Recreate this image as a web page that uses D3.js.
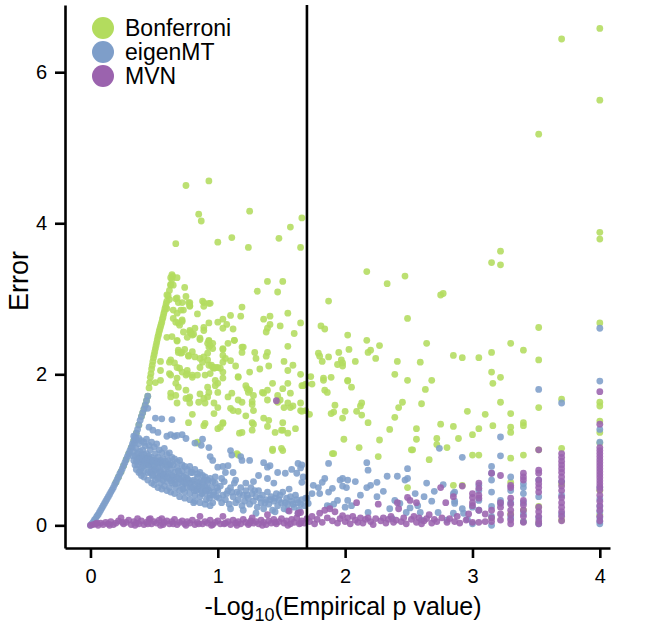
<!DOCTYPE html>
<html>
<head>
<meta charset="utf-8">
<script src="https://cdn.jsdelivr.net/npm/d3@7"></script>
<style>
  html, body { margin: 0; padding: 0; background: #ffffff; }
  svg { display: block; font-family: "Liberation Sans", Arial, Helvetica, sans-serif; }
</style>
</head>
<body>
<svg id="chart" width="664" height="626"></svg>
<script>
// ---------------- DATA ----------------
const methods = ["Bonferroni", "eigenMT", "MVN"];
const xTicks = [0, 1, 2, 3, 4];
const yTicks = [0, 2, 4, 6];
const threshold = 1.7;
const xTitleMain = "-Log";
const xTitleSub = "10";
const xTitleRest = "(Empirical p value)";
const yTitle = "Error";

// Bonferroni: points along the upper envelope
const bonferroniEnvelope = [
  [0.20,0.57],[0.22,0.64],[0.24,0.71],[0.26,0.79],[0.28,0.87],[0.30,0.95],[0.32,1.03],[0.34,1.12],
  [0.36,1.22],[0.38,1.33],[0.40,1.44],[0.41,1.49],[0.42,1.54],[0.43,1.59],[0.44,1.65],[0.45,1.71],
  [0.46,1.82],[0.465,1.89],[0.47,1.96],[0.475,2.01],[0.48,2.07],[0.485,2.12],[0.49,2.17],[0.495,2.22],
  [0.50,2.26],[0.505,2.30],[0.51,2.34],[0.515,2.38],[0.52,2.42],[0.525,2.46],[0.53,2.50],[0.535,2.53],
  [0.54,2.57],[0.545,2.60],[0.55,2.63],[0.555,2.66],[0.56,2.69],[0.565,2.73],[0.57,2.76],[0.575,2.80],
  [0.58,2.83],[0.585,2.87],[0.59,2.90],[0.595,2.94],[0.60,2.97],[0.61,3.04],[0.62,3.11],[0.63,3.18],
  [0.64,3.26],[0.645,3.30]
];
// Bonferroni: scattered points
const bonferroniScatter = [
  [4.0,6.58],[3.7,6.44],[4.0,5.63],[3.52,5.18],[0.75,4.50],[0.93,4.56],[0.85,4.12],[0.87,4.03],[1.25,4.16],
  [1.66,4.07],[0.67,3.73],[1.0,3.75],[1.11,3.81],[1.24,3.68],[1.48,3.80],[1.57,3.95],[1.65,3.68],[4.0,3.88],
  [4.0,3.79],[3.22,3.63],[3.15,3.48],[3.22,3.45],[2.17,3.36],[2.47,3.30],[2.33,3.20],[1.87,2.97],[2.75,3.05],
  [2.77,3.07],[2.49,2.74],[3.52,2.62],[4.0,2.68],[1.65,2.68],[1.81,2.64],[1.84,2.60],[2.02,2.52],[2.17,2.45],
  [2.27,2.38],[2.03,2.33],[2.18,2.29],[2.20,2.32],[2.24,2.21],[2.64,2.41],[3.3,2.41],[3.4,2.32],[3.52,2.19],
  [3.15,2.29],[2.85,2.25],[2.92,2.22],[3.05,2.22],[1.79,2.28],[1.80,2.24],[1.87,2.23],[1.95,2.29],[1.82,2.17],
  [1.94,2.13],[1.97,2.19],[1.98,2.15],[1.98,2.11],[2.08,2.17],[2.41,2.17],[2.59,2.16],[2.39,2.00],[3.15,2.03],
  [3.22,1.96],[1.73,1.97],[1.83,1.95],[1.89,1.96],[2.02,1.92],[2.49,1.92],[2.68,1.92],[2.05,1.83],
  [0.64,3.32],[0.63,3.28],[0.68,3.28],[0.63,3.19],[0.65,3.18],[0.74,3.15],[1.39,3.23],[1.51,3.23],[1.31,3.10],
  [1.47,3.09],[0.60,3.05],[0.68,3.01],[0.62,2.99],[0.75,3.03],[0.78,2.95],[0.78,2.90],[0.89,2.95],[0.89,2.90],
  [0.94,2.94],[0.60,2.87],[0.65,2.85],[0.68,2.81],[0.73,2.85],[0.84,2.80],[1.19,2.89],[1.18,2.77],[1.10,2.78],
  [1.55,2.81],[1.36,2.73],[1.41,2.77],[1.41,2.66],[1.39,2.61],[1.38,2.56],[1.49,2.64],[1.60,2.54],[1.55,2.37],
  [0.65,2.74],[0.72,2.70],[0.70,2.65],[0.60,2.49],[0.64,2.50],[0.68,2.44],[0.73,2.56],[0.79,2.54],[0.78,2.58],
  [0.82,2.61],[0.81,2.53],[0.86,2.46],[0.89,2.62],[0.93,2.68],[1.04,2.73],[1.00,2.69],[1.07,2.66],[1.04,2.61],
  [1.12,2.60],[0.93,2.44],[0.96,2.41],[0.93,2.36],[1.04,2.33],[1.13,2.45],[1.20,2.36],[1.19,2.29],[1.29,2.29],
  [1.30,2.21],[1.39,2.29],[1.38,2.24],[1.25,2.03],[1.33,2.07],[1.40,2.11],[1.52,2.17],[1.59,2.12],[1.55,2.05],
  [1.65,2.00],[1.16,1.97],[0.69,2.29],[0.71,2.28],[0.74,2.33],[0.77,2.24],[0.80,2.30],[0.63,2.19],[0.62,2.16],
  [0.66,2.15],[0.55,2.17],[0.55,2.05],[0.62,2.01],[0.70,2.08],[0.76,2.05],[0.86,2.09],[0.88,2.16],[0.92,2.19],
  [0.95,2.12],[0.97,2.08],[1.00,2.09],[1.04,2.03],[0.75,1.99],[0.80,1.99],
  [0.67,3.00],[0.69,2.95],[0.72,2.95],[0.77,2.95],[0.78,2.91],[0.88,2.97],[0.93,2.94],[0.71,2.85],[0.72,2.72],
  [0.69,2.68],[0.67,2.69],[0.78,2.56],[0.76,2.49],[0.80,2.52],[0.86,2.48],[0.93,2.45],[0.92,2.41],[0.94,2.38],
  [0.96,2.34],[0.89,2.58],[0.68,2.45],[0.69,2.32],[0.72,2.29],[0.77,2.25],[0.82,2.23],[0.86,2.21],[0.89,2.23],
  [0.92,2.28],[0.93,2.12],[0.96,2.09],[0.98,2.09],[1.02,2.08],[0.68,2.09],[0.72,2.03],[0.76,2.01],[0.80,1.96],
  [0.84,1.99],[0.90,1.99],[0.94,2.01],[1.04,1.95],[0.67,1.88],[0.69,1.83],[0.75,1.79],[0.98,1.92],[1.00,1.88],
  [0.98,1.85],[1.04,2.25],[1.06,2.21],[1.04,2.16],[1.10,2.18],[1.14,2.11],[1.16,1.96],[1.08,2.41],[1.13,2.45],
  [1.19,2.36],[1.04,2.34],
  [0.77,1.68],[0.78,1.62],[0.86,1.74],[0.92,1.83],[0.93,1.76],[1.00,1.76],[0.97,1.62],[1.08,1.70],[1.11,1.75],
  [1.16,1.66],[1.19,1.63],[1.22,1.85],[1.23,1.81],[1.24,1.76],[1.28,1.72],[1.27,1.60],[1.35,1.76],[1.39,1.79],
  [1.43,1.88],[1.47,1.72],[1.51,1.81],[1.55,1.88],[1.57,1.75],[1.52,1.56],[1.59,1.58],[1.66,1.85],[1.69,1.87],
  [0.51,1.89],[0.55,1.92],[0.63,1.99],[0.68,1.95],[0.63,1.75],[0.67,1.72],[0.68,1.62],[0.90,1.62],[0.92,1.70],
  [1.00,1.56],[0.97,1.48],[1.10,1.55],[1.12,1.52],[1.25,1.79],[1.27,1.64],[1.36,1.75],[1.39,1.66],[1.49,1.66],
  [1.55,1.62],[1.57,1.56],[1.65,1.52],[1.27,1.36],[1.28,1.34],[1.27,1.26],[1.36,1.42],[1.40,1.39],[1.45,1.23],
  [1.51,1.26],[1.55,1.22],[1.19,1.23],[1.17,1.22],[1.04,1.35],[1.00,1.28],[0.90,1.35],[0.89,1.32],[1.43,0.99],
  [1.51,0.99],[0.84,1.10],[1.15,0.95],[0.80,1.47],[0.77,1.36],[1.04,1.36],[1.02,1.30],[1.16,1.51],[1.28,1.52],
  [1.39,1.31],[1.51,1.36],[1.50,1.26],[1.61,1.28],[1.69,1.52],[1.43,1.01],[1.50,1.02],[1.16,0.93],[0.84,1.09],
  [1.65,1.62],[1.47,1.63],[0.85,1.63],[0.89,1.68],[0.63,1.70],[0.75,1.68],[0.78,1.70],[1.22,1.45],
  [1.66,1.51],[1.72,1.47],[1.83,1.92],[1.74,1.87],[1.67,1.85],[1.84,1.79],[1.86,1.76],[2.02,1.91],
  [1.92,1.59],[1.91,1.50],[1.89,1.48],[2.00,1.51],[1.98,1.42],[2.09,1.51],[2.12,1.58],[2.13,1.62],[2.13,1.46],
  [2.18,1.36],[1.99,1.14],[2.11,1.03],[1.90,0.95],[1.91,0.95],[2.27,1.13],[2.26,0.91],[2.35,1.27],[2.39,1.43],
  [2.42,1.56],[2.45,1.63],[2.63,1.80],[2.60,1.61],[2.56,1.28],[2.56,1.14],[2.53,1.00],[2.52,1.00],[2.66,0.87],
  [2.75,1.34],[2.85,1.31],[2.72,1.15],[2.72,1.07],[2.80,1.03],[2.89,1.15],[2.96,1.51],[2.49,0.50],[2.85,0.53],
  [3.16,1.88],[3.22,1.63],[3.0,1.20],[3.05,1.28],[3.0,0.93],[3.05,0.93],[3.10,1.47],[3.16,1.32],[3.3,1.48],
  [3.3,1.30],[3.3,1.23],[3.4,1.36],[3.4,1.32],[3.3,0.89],[3.4,0.93],[3.52,1.56],[3.52,1.00],[3.7,1.67],
  [3.7,1.02],[4.0,1.63],[4.0,1.58],[4.0,1.38],[4.0,1.23],[4.0,1.09],[4.0,0.46],[4.0,0.14],[3.7,0.07],[3.7,0.55],
  [3.52,0.25],[3.52,0.03],[3.4,0.20],[3.3,0.15],[3.3,0.57],[3.15,0.10],[3.4,0.05],[2.92,0.53]
];

// eigenMT: points along the envelope
const eigenEnvelope = [
  [0.00,0.00],[0.01,0.02],[0.02,0.04],[0.03,0.07],[0.04,0.09],[0.05,0.12],[0.06,0.14],[0.07,0.17],
  [0.08,0.20],[0.09,0.23],[0.10,0.26],[0.11,0.29],[0.12,0.32],[0.13,0.35],[0.14,0.38],[0.15,0.41],
  [0.16,0.44],[0.17,0.47],[0.18,0.50],[0.19,0.54],[0.20,0.57],[0.21,0.61],[0.22,0.64],[0.23,0.68],
  [0.24,0.71],[0.25,0.75],[0.26,0.79],[0.27,0.83],[0.28,0.87],[0.29,0.91],[0.30,0.95],[0.31,0.99],
  [0.32,1.03],[0.33,1.08],[0.34,1.12],[0.35,1.17],[0.36,1.22],[0.37,1.27],[0.38,1.33],[0.39,1.39],
  [0.40,1.44],[0.41,1.49],[0.42,1.54],[0.43,1.59],[0.44,1.65],[0.45,1.71]
];
// eigenMT: scattered points
const eigenScatter = [
  [0.45,1.55],[0.51,1.42],[0.56,1.41],[0.64,1.40],[0.46,1.30],[0.49,1.26],[0.53,1.23],[0.60,1.18],[0.63,1.20],
  [0.66,1.18],[0.68,1.19],[0.72,1.20],[0.75,1.15],[0.82,1.09],[0.88,1.14],[0.87,1.06],[0.93,1.03],[0.94,0.91],
  [0.96,0.86],[1.10,0.99],[1.11,0.93],[1.18,0.91],[1.19,0.86],[1.25,0.86],[1.00,0.77],[1.04,0.78],[1.08,0.79],
  [1.06,0.70],[1.12,0.70],[1.36,0.83],[1.39,0.77],[1.41,0.79],[1.47,0.70],[1.53,0.69],[1.58,0.74],[1.62,0.69],
  [1.63,0.82],[1.67,0.64],[1.32,0.66],[1.39,0.62],[0.81,0.30],[1.63,0.16],
  [0.33,1.05],[0.34,0.98],[0.35,0.92],[0.35,1.10],[0.36,0.85],[0.36,1.02],[0.37,0.95],[0.37,0.80],[0.38,1.08],
  [0.38,0.90],[0.39,0.98],[0.39,0.84],[0.40,0.92],[0.40,0.76],[0.41,1.00],[0.41,0.86],[0.42,0.94],[0.42,0.72],
  [0.43,0.88],[0.43,1.05],[0.44,0.80],[0.44,0.95],[0.45,0.86],[0.45,0.70],[0.46,0.92],[0.46,0.78],[0.47,0.84],
  [0.47,1.00],[0.48,0.74],[0.48,0.90],[0.49,0.80],[0.49,0.65],[0.50,0.86],[0.50,0.72],[0.51,0.95],[0.51,0.60],
  [0.52,0.82],[0.52,0.68],[0.53,0.76],[0.53,0.90],[0.54,0.64],[0.54,0.84],[0.55,0.72],[0.55,0.56],[0.56,0.80],
  [0.56,0.66],[0.57,0.88],[0.57,0.60],[0.58,0.74],[0.58,0.52],[0.59,0.68],[0.60,0.78],[0.60,0.58],[0.61,0.70],
  [0.61,0.86],[0.62,0.62],[0.62,0.50],[0.63,0.74],[0.64,0.66],[0.64,0.56],[0.65,0.80],[0.66,0.60],[0.66,0.70],
  [0.67,0.50],[0.68,0.64],[0.68,0.76],[0.69,0.56],[0.70,0.68],[0.70,0.46],[0.71,0.60],[0.72,0.72],[0.72,0.52],
  [0.73,0.64],[0.74,0.56],[0.74,0.44],[0.75,0.66],[0.76,0.50],[0.77,0.60],[0.78,0.42],[0.78,0.56],[0.79,0.70],
  [0.80,0.50],[0.81,0.60],[0.82,0.40],[0.82,0.54],[0.83,0.46],[0.84,0.64],[0.85,0.52],[0.86,0.38],[0.86,0.58],
  [0.87,0.46],[0.88,0.50],[0.89,0.60],[0.90,0.42],[0.90,0.52],[0.91,0.34],[0.92,0.56],[0.93,0.46],[0.94,0.40],
  [0.95,0.50],[0.96,0.30],[0.97,0.44],[0.98,0.56],[0.99,0.38],[1.00,0.46],
  [0.37,0.88],[0.39,0.72],[0.42,0.82],[0.44,0.88],[0.47,0.70],[0.50,0.78],[0.53,0.62],[0.55,0.86],[0.58,0.64],
  [0.62,0.80],[0.65,0.64],[0.69,0.72],[0.73,0.58],[0.76,0.62],[0.80,0.58],[0.84,0.48],[0.88,0.56],[0.92,0.48],
  [0.33,0.92],[0.34,0.86],[0.35,0.80],[0.36,0.74],[0.38,0.70],[0.40,0.66],[0.34,1.18],[0.36,1.14],[0.38,1.15],
  [0.40,1.12],[0.42,1.10],[0.44,1.14],[0.46,1.06],[0.48,1.10],[0.50,1.04],[0.52,1.08],[0.54,1.00],[0.56,0.96],
  [0.58,1.02],[0.60,0.94],[0.62,0.96],[0.64,0.90],[0.66,0.88],[0.68,0.84],[0.70,0.86],[0.72,0.80],[0.74,0.78],
  [0.76,0.74],[0.78,0.78],[0.80,0.70],[0.82,0.74],[0.84,0.68],[0.86,0.70],[0.88,0.66],[0.90,0.64],[0.92,0.60],
  [0.94,0.62],[0.96,0.58],[0.98,0.64],
  [0.42,0.64],[0.45,0.60],[0.48,0.56],[0.50,0.54],[0.53,0.50],[0.56,0.48],[0.60,0.46],[0.63,0.44],[0.66,0.42],
  [0.70,0.38],[0.74,0.36],[0.78,0.34],[0.82,0.32],[0.86,0.30],[0.90,0.28],[0.94,0.26],
  [0.415,0.79],[0.455,0.81],[0.485,0.67],[0.515,0.74],[0.545,0.70],[0.575,0.67],[0.605,0.63],[0.635,0.59],
  [0.665,0.55],[0.695,0.62],[0.725,0.48],[0.755,0.56],[0.785,0.50],[0.815,0.46],[0.845,0.56],[0.875,0.42],
  [0.905,0.46],[0.935,0.36],[0.965,0.40],[0.995,0.50],
  [0.37,0.87],[0.39,0.88],[0.41,0.89],[0.43,0.85],[0.45,0.88],[0.47,0.87],[0.49,0.85],[0.51,0.86],[0.53,0.84],
  [0.55,0.83],[0.57,0.82],[0.59,0.85],[0.61,0.80],[0.63,0.82],
  [1.02,0.52],[1.04,0.40],[1.05,0.58],[1.06,0.34],[1.08,0.46],[1.09,0.28],[1.10,0.50],[1.12,0.38],[1.13,0.56],
  [1.14,0.30],[1.15,0.44],[1.16,0.34],[1.18,0.50],[1.19,0.26],[1.20,0.40],[1.21,0.32],[1.22,0.46],[1.24,0.36],
  [1.25,0.28],[1.26,0.50],[1.27,0.42],[1.28,0.32],[1.30,0.38],[1.31,0.24],[1.32,0.46],[1.34,0.30],[1.35,0.40],
  [1.36,0.22],[1.38,0.34],[1.39,0.44],[1.40,0.28],[1.42,0.38],[1.43,0.20],[1.44,0.32],[1.46,0.42],[1.47,0.26],
  [1.48,0.34],[1.50,0.30],[1.51,0.44],[1.52,0.22],[1.54,0.36],[1.55,0.28],[1.56,0.48],[1.58,0.32],[1.60,0.24],
  [1.61,0.40],[1.63,0.30],[1.64,0.20],[1.66,0.34],[1.68,0.26],[1.70,0.36],
  [1.01,0.36],[1.03,0.30],[1.07,0.42],[1.11,0.44],[1.17,0.42],[1.23,0.40],[1.29,0.46],[1.33,0.36],[1.37,0.30],
  [1.41,0.34],[1.45,0.36],[1.49,0.40],[1.53,0.30],[1.57,0.38],[1.59,0.28],[1.62,0.34],[1.65,0.28],[1.10,0.22],
  [1.20,0.20],[1.30,0.16],[1.45,0.18],[1.55,0.20],[1.03,0.62],[1.14,0.60],[1.22,0.56],[1.28,0.58],[1.44,0.56],
  [1.66,0.80],[1.65,0.76],[1.87,0.82],[2.17,0.83],[2.18,0.73],[2.49,0.75],[2.92,0.90],[2.74,1.02],[2.33,0.65],
  [2.41,0.65],[2.47,0.60],[2.49,0.62],[2.64,0.56],[2.77,0.54],[2.25,0.57],[2.20,0.53],[2.17,0.50],[2.08,0.58],
  [1.98,0.62],[1.96,0.60],[2.02,0.60],[1.98,0.52],[2.01,0.50],[1.84,0.62],[1.82,0.57],[1.79,0.50],[1.90,0.49],
  [1.87,0.44],[1.80,0.42],[1.75,0.53],[1.74,0.42],[1.66,0.57],[1.69,0.36],[1.71,0.29],[1.86,0.26],[1.88,0.25],
  [1.91,0.28],[1.94,0.33],[2.00,0.24],[2.02,0.33],[2.05,0.26],[2.18,0.17],[2.35,0.22],[2.37,0.09],[2.39,0.33],
  [2.43,0.29],[2.48,0.17],[2.51,0.23],[2.57,0.26],[2.59,0.17],[2.60,0.07],[2.68,0.32],[2.73,0.17],[2.80,0.07],
  [2.85,0.42],[2.86,0.32],[2.85,0.16],[2.96,0.08],[2.93,0.16],[2.12,0.40],[2.25,0.38],[2.30,0.45],[2.55,0.42],
  [2.62,0.38],[2.70,0.45],[2.86,0.44],[2.86,0.29],
  [3.05,0.53],[3.05,0.46],[3.05,0.33],[3.05,0.20],[3.0,0.24],[3.0,0.02],[2.92,0.22],
  [3.15,0.78],[3.15,0.69],[3.15,0.60],[3.15,0.44],[3.15,0.25],[3.15,0.12],[3.15,0.00],
  [3.22,1.17],[3.22,0.92],[3.22,0.33],[3.22,0.29],
  [3.3,0.64],[3.3,0.46],[3.3,0.30],[3.3,0.10],
  [3.4,0.55],[3.4,0.50],[3.4,0.42],[3.4,0.30],[3.4,0.15],[3.4,0.05],
  [3.52,1.80],[3.52,0.60],[3.52,0.38],[3.52,0.10],[3.52,0.02],
  [3.7,1.62],[3.7,0.58],[3.7,0.40],[3.7,0.15],
  [4.0,2.61],[4.0,1.91],[4.0,1.27],[4.0,1.10],[4.0,0.50],[4.0,0.35],[4.0,0.25],[4.0,0.18],[4.0,0.10],[4.0,0.05],[4.0,0.02]
];

// MVN points
const mvnPoints = [
  [0.00,0.00],[0.02,0.01],[0.04,0.02],[0.06,0.00],[0.08,0.03],[0.10,0.01],[0.12,0.04],[0.14,0.02],[0.16,0.05],
  [0.18,0.01],[0.20,0.03],[0.22,0.06],[0.24,0.10],[0.26,0.02],[0.28,0.04],[0.30,0.07],[0.32,0.01],[0.34,0.05],
  [0.36,0.03],[0.37,0.09],[0.38,0.02],[0.40,0.06],[0.42,0.01],[0.44,0.04],[0.46,0.08],[0.47,0.09],[0.48,0.02],
  [0.50,0.05],[0.52,0.03],[0.54,0.07],[0.56,0.09],[0.57,0.01],[0.58,0.04],[0.60,0.06],[0.62,0.02],[0.64,0.05],
  [0.66,0.08],[0.68,0.01],[0.70,0.04],[0.72,0.06],[0.74,0.02],[0.76,0.05],[0.78,0.03],[0.80,0.07],[0.82,0.01],
  [0.84,0.04],[0.86,0.12],[0.88,0.02],[0.90,0.05],[0.92,0.03],[0.94,0.07],[0.96,0.01],[0.98,0.04],[1.00,0.06],
  [1.02,0.02],[1.04,0.12],[1.06,0.03],[1.08,0.05],[1.10,0.01],[1.12,0.07],[1.14,0.03],[1.16,0.05],[1.18,0.02],
  [1.20,0.08],[1.22,0.04],[1.24,0.01],[1.26,0.06],[1.27,0.10],[1.28,0.03],[1.30,0.05],[1.32,0.02],[1.34,0.07],
  [1.36,0.04],[1.38,0.01],[1.39,0.14],[1.40,0.06],[1.42,0.03],[1.44,0.08],[1.46,0.02],[1.48,0.05],[1.50,0.09],
  [1.52,0.03],[1.54,0.06],[1.56,0.19],[1.57,0.02],[1.58,0.08],[1.60,0.04],[1.62,0.10],[1.63,0.16],[1.64,0.02],
  [1.65,0.17],[1.66,0.06],[1.68,0.03],[1.70,0.09],
  [0.05,0.03],[0.15,0.00],[0.25,0.04],[0.35,0.00],[0.45,0.02],[0.55,0.00],[0.65,0.02],[0.75,0.00],[0.85,0.02],
  [0.95,0.00],[1.05,0.02],[1.15,0.00],[1.25,0.03],[1.35,0.00],[1.45,0.04],[1.55,0.00],[1.65,0.03],
  [1.46,1.65],
  [1.72,0.05],[1.74,0.12],[1.76,0.02],[1.78,0.08],[1.80,0.16],[1.82,0.04],[1.84,0.20],[1.86,0.10],[1.88,0.22],
  [1.90,0.06],[1.92,0.18],[1.94,0.03],[1.96,0.09],[1.98,0.13],[2.00,0.05],[2.02,0.10],[2.04,0.02],[2.06,0.12],
  [2.08,0.07],[2.09,0.30],[2.10,0.04],[2.12,0.10],[2.14,0.03],[2.16,0.08],[2.18,0.10],[2.20,0.05],[2.22,0.01],
  [2.24,0.09],[2.26,0.28],[2.28,0.06],[2.30,0.10],[2.32,0.03],[2.34,0.08],[2.36,0.12],[2.38,0.04],[2.40,0.07],
  [2.41,0.30],[2.42,0.22],[2.44,0.05],[2.46,0.10],[2.48,0.02],[2.49,0.37],[2.51,0.33],[2.52,0.08],[2.54,0.12],
  [2.56,0.30],[2.56,0.04],[2.58,0.10],[2.60,0.02],[2.62,0.06],[2.64,0.09],[2.66,0.14],[2.68,0.03],[2.70,0.08],
  [2.72,0.05],[2.75,0.50],[2.76,0.10],[2.79,0.30],[2.80,0.04],[2.82,0.09],[2.85,0.38],[2.86,0.05],[2.88,0.12],
  [2.92,0.52],[2.90,0.03],[2.95,0.07],[2.97,0.15],
  [3.0,0.37],[3.0,0.26],[3.0,0.42],[3.0,0.30],[3.0,0.04],
  [3.05,0.56],[3.05,0.49],[3.05,0.40],[3.05,0.36],[3.05,0.20],[3.05,0.04],
  [3.10,0.15],[3.10,0.05],
  [3.15,0.69],[3.15,0.20],[3.15,0.10],[3.15,0.05],
  [3.22,0.66],[3.22,0.30],[3.22,0.24],[3.22,0.15],[3.22,0.07],
  [3.3,0.53],[3.3,0.50],[3.3,0.36],[3.3,0.28],[3.3,0.20],[3.3,0.14],[3.3,0.07],[3.3,0.02],
  [3.4,0.69],[3.4,0.64],[3.4,0.60],[3.4,0.33],[3.4,0.27],[3.4,0.20],[3.4,0.12],[3.4,0.04],
  [3.52,1.00],[3.52,0.73],[3.52,0.69],[3.52,0.60],[3.52,0.55],[3.52,0.50],[3.52,0.44],[3.52,0.24],[3.52,0.18],
  [3.52,0.12],[3.52,0.06],[3.52,0.02],
  [3.7,0.95],[3.7,0.90],[3.7,0.85],[3.7,0.80],[3.7,0.75],[3.7,0.70],[3.7,0.64],[3.7,0.58],[3.7,0.52],[3.7,0.46],
  [3.7,0.37],[3.7,0.30],[3.7,0.24],[3.7,0.18],[3.7,0.12],[3.7,0.06],
  [4.0,1.77],[4.0,1.34],[4.0,1.03],[4.0,0.99],[4.0,0.95],[4.0,0.91],[4.0,0.87],[4.0,0.83],[4.0,0.79],[4.0,0.75],
  [4.0,0.71],[4.0,0.67],[4.0,0.63],[4.0,0.59],[4.0,0.55],[4.0,0.51],[4.0,0.47],[4.0,0.40],[4.0,0.32],[4.0,0.26],
  [4.0,0.20],[4.0,0.12],[4.0,0.06]
];

// ---------------- STYLE ----------------
const colors = ["#b3dc5e", "#7e9ec9", "#9b63ae"];
const plot = { left: 65, right: 610, top: 5, bottom: 548 };

const svg = d3.select("#chart");

const x = d3.scaleLinear().domain([-0.2, 4.08]).range([plot.left, plot.right]);
const y = d3.scaleLinear().domain([-0.3, 6.89]).range([plot.bottom, plot.top]);

const seriesData = [
  bonferroniEnvelope.concat(bonferroniScatter),
  eigenEnvelope.concat(eigenScatter),
  mvnPoints
];

const pts = svg.append("g");
seriesData.forEach((data, i) => {
  pts.append("g").selectAll("circle").data(data).join("circle")
    .attr("cx", d => x(d[0]))
    .attr("cy", d => y(d[1]))
    .attr("r", 3.4)
    .attr("fill", colors[i])
    .attr("fill-opacity", 0.88);
});

// threshold line
svg.append("line")
  .attr("x1", x(threshold)).attr("x2", x(threshold))
  .attr("y1", plot.top).attr("y2", plot.bottom)
  .attr("stroke", "#000").attr("stroke-width", 2.6);

// axes
const xAxis = d3.axisBottom(x).tickValues(xTicks).tickFormat(d3.format("d"))
  .tickSizeInner(10).tickSizeOuter(0).tickPadding(11);
const yAxis = d3.axisLeft(y).tickValues(yTicks).tickFormat(d3.format("d"))
  .tickSizeInner(10).tickSizeOuter(0).tickPadding(8);

const gx = svg.append("g").attr("transform", `translate(0,${plot.bottom})`).call(xAxis);
const gy = svg.append("g").attr("transform", `translate(${plot.left},0)`).call(yAxis);
[gx, gy].forEach(g => {
  g.select(".domain").attr("stroke", "#000").attr("stroke-width", 2.6);
  g.selectAll(".tick line").attr("stroke", "#000").attr("stroke-width", 2.6);
  g.selectAll(".tick text").attr("fill", "#000").style("font-size", "20px")
    .style("font-family", "'Liberation Sans', Arial, sans-serif");
});

// axis titles
svg.append("text")
  .attr("transform", "translate(28,281) rotate(-90)")
  .attr("text-anchor", "middle")
  .style("font-size", "27px")
  .text(yTitle);

const xt = svg.append("text")
  .attr("x", 343).attr("y", 615)
  .attr("text-anchor", "middle")
  .style("font-size", "25px");
xt.append("tspan").text(xTitleMain);
xt.append("tspan").attr("dy", 6).style("font-size", "18px").text(xTitleSub);
xt.append("tspan").attr("dy", -6).text(xTitleRest);

// legend
const lg = svg.append("g");
methods.forEach((m, i) => {
  const cy = 28 + i * 24;
  lg.append("circle").attr("cx", 103).attr("cy", cy).attr("r", 11)
    .attr("fill", colors[i]);
  lg.append("text").attr("x", 125).attr("y", cy + 8)
    .style("font-size", "23px").text(m);
});
</script>
</body>
</html>
